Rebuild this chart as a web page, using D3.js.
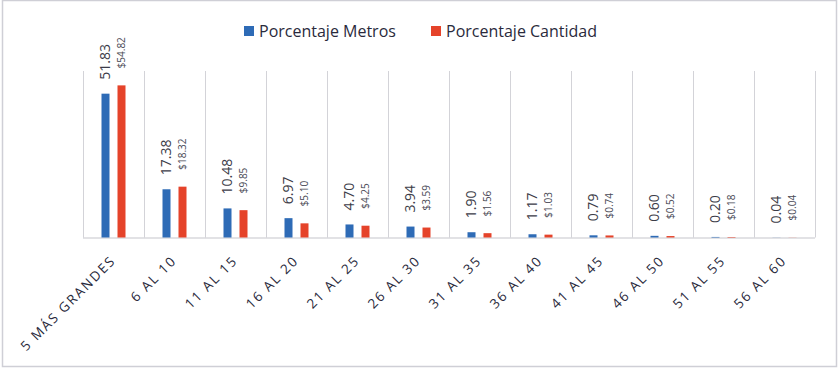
<!DOCTYPE html>
<html>
<head>
<meta charset="utf-8">
<script src="https://cdn.jsdelivr.net/npm/d3@7"></script>
<style>
  body { margin: 0; background: #fff; }
  svg { display: block; font-family: "Open Sans", sans-serif; }
</style>
</head>
<body>
<svg id="chart" width="839" height="369"></svg>
<script>
let categories = ['5 MÁS GRANDES', '6 AL 10', '11 AL 15', '16 AL 20', '21 AL 25', '26 AL 30',
  '31 AL 35', '36 AL 40', '41 AL 45', '46 AL 50', '51 AL 55', '56 AL 60'];
let metros = [51.83, 17.38, 10.48, 6.97, 4.70, 3.94, 1.90, 1.17, 0.79, 0.60, 0.20, 0.04];
let cantidad = [54.82, 18.32, 9.85, 5.10, 4.25, 3.59, 1.56, 1.03, 0.74, 0.52, 0.18, 0.04];
let series_names = ['Porcentaje Metros', 'Porcentaje Cantidad'];
let series_colors = ['#2e6bb6', '#e5432a'];

let width = 839, height = 369;
let margin = {left: 83, right: 24, top: 71, bottom: 131};
let bar_w = 8;
let text_color = '#2a2a3c';
let grid_color = '#d3d3d8';

let svg = d3.select('#chart');

// outer frame
svg.append('rect')
  .attr('x', 2.5).attr('y', 0.5)
  .attr('width', 834).attr('height', 366)
  .attr('fill', 'none')
  .attr('stroke', '#cfcfd6')
  .attr('stroke-width', 1.5);

let x = d3.scaleBand()
  .domain(categories)
  .range([margin.left, width - margin.right]);

let y = d3.scaleLinear()
  .domain([0, 60])
  .range([height - margin.bottom - 0.5, margin.top]);

// vertical grid lines at category boundaries
svg.selectAll('.grid')
  .data(d3.range(categories.length + 1))
  .enter().append('line')
  .attr('class', 'grid')
  .attr('x1', i => Math.round(margin.left + i * x.bandwidth()) + 0.5)
  .attr('x2', i => Math.round(margin.left + i * x.bandwidth()) + 0.5)
  .attr('y1', y(60))
  .attr('y2', y(0))
  .attr('stroke', grid_color)
  .attr('stroke-width', 1);

// baseline
svg.append('line')
  .attr('x1', margin.left).attr('x2', width - margin.right)
  .attr('y1', y(0) + 0.5).attr('y2', y(0) + 0.5)
  .attr('stroke', '#c6c6cc')
  .attr('stroke-width', 1.2);

let center = d => x(d) + x.bandwidth() / 2;

// bars
svg.selectAll('.bar-m')
  .data(categories)
  .enter().append('rect')
  .attr('class', 'bar-m')
  .attr('x', (d, i) => center(d) - 8 - bar_w / 2)
  .attr('y', (d, i) => y(metros[i]))
  .attr('width', bar_w)
  .attr('height', (d, i) => y(0) - y(metros[i]))
  .attr('fill', series_colors[0]);

svg.selectAll('.bar-c')
  .data(categories)
  .enter().append('rect')
  .attr('class', 'bar-c')
  .attr('x', (d, i) => center(d) + 8 - bar_w / 2)
  .attr('y', (d, i) => y(cantidad[i]))
  .attr('width', bar_w)
  .attr('height', (d, i) => y(0) - y(cantidad[i]))
  .attr('fill', series_colors[1]);

// value labels (rotated)
svg.selectAll('.lab-m')
  .data(categories)
  .enter().append('text')
  .attr('class', 'lab-m')
  .attr('transform', (d, i) => `translate(${center(d) - 8}, ${y(metros[i]) - 14}) rotate(-90)`)
  .attr('dy', '0.35em')
  .style('font-size', '14px')
  .style('fill', '#3c3c48')
  .text((d, i) => d3.format('.2f')(metros[i]));

svg.selectAll('.lab-c')
  .data(categories)
  .enter().append('text')
  .attr('class', 'lab-c')
  .attr('transform', (d, i) => `translate(${center(d) + 8}, ${y(cantidad[i]) - 17}) rotate(-90)`)
  .attr('dy', '0.35em')
  .style('font-size', '10px')
  .style('fill', '#4a4a56')
  .text((d, i) => '$' + d3.format('.2f')(cantidad[i]));

// category labels
svg.selectAll('.cat')
  .data(categories)
  .enter().append('text')
  .attr('class', 'cat')
  .attr('transform', d => `translate(${center(d) + 3}, ${y(0) + 24}) rotate(-45)`)
  .style('text-anchor', 'end')
  .style('font-size', '13.5px')
  .style('letter-spacing', '1.8px')
  .style('fill', text_color)
  .text(d => d);

// legend
let legend_x = [244, 431];
let legend = svg.selectAll('.legend')
  .data(series_names)
  .enter().append('g')
  .attr('class', 'legend')
  .attr('transform', (d, i) => `translate(${legend_x[i]}, 26)`);

legend.append('rect')
  .attr('width', 10).attr('height', 10)
  .attr('fill', (d, i) => series_colors[i]);

legend.append('text')
  .attr('x', 15)
  .attr('y', 10.5)
  .style('font-size', '16px')
  .style('fill', text_color)
  .text(d => d);
</script>
</body>
</html>
